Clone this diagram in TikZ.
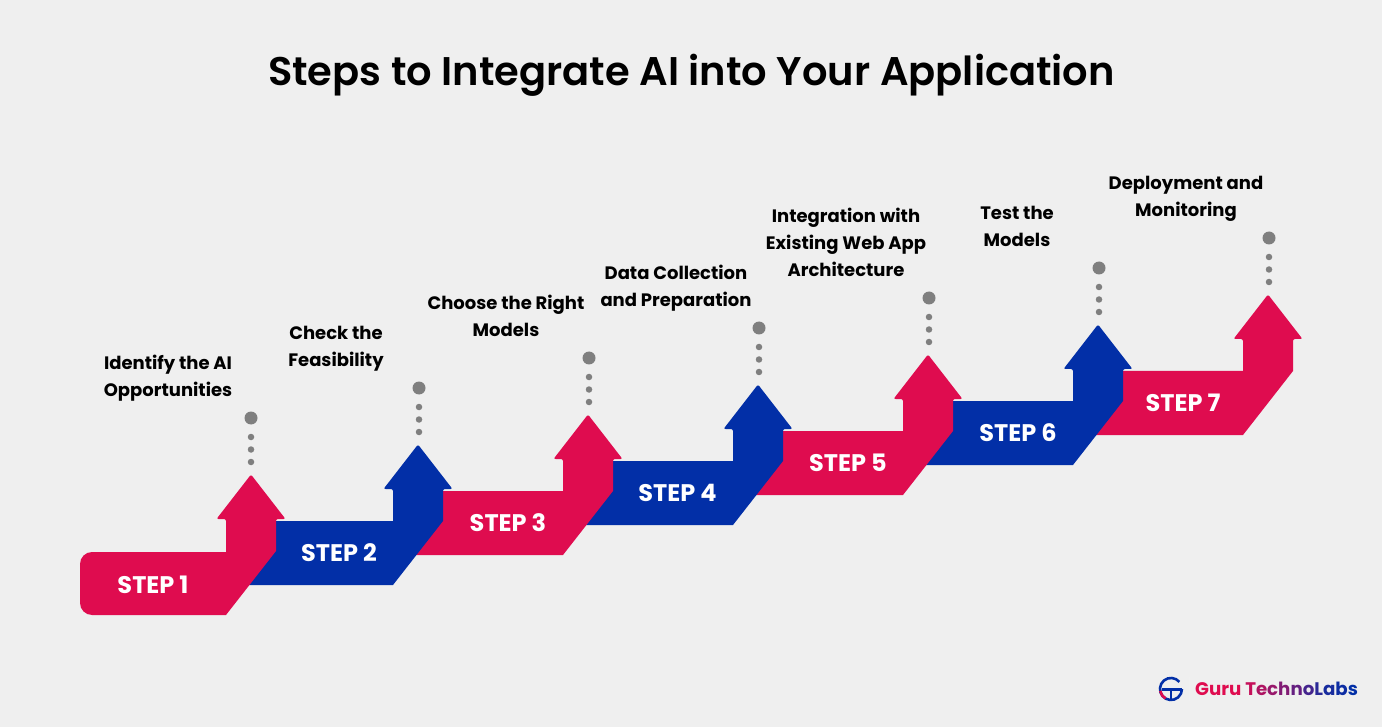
\documentclass[tikz,border=0pt]{standalone}
\usepackage{fontspec}
\setmainfont{Poppins}[BoldFont=* Bold]
\newfontfamily\semifont{Poppins SemiBold}
\definecolor{bgc}{HTML}{EFEFEF}
\definecolor{crim}{HTML}{DF0C4F}
\definecolor{deep}{HTML}{022FA7}
\definecolor{dotc}{HTML}{7F7F7F}
\tikzset{
  x=1pt,y=-1pt,
  steptext/.style={text=white,font=\bfseries\fontsize{24}{27}\selectfont,inner sep=0},
  caption/.style={text=black,font=\bfseries\fontsize{18}{27}\selectfont,align=center,inner sep=0},
  bigdot/.style={circle,fill=dotc,minimum size=13pt,inner sep=0},
  smalldot/.style={circle,fill=dotc,minimum size=6.5pt,inner sep=0},
  logotext/.style={font=\bfseries\fontsize{18.2}{22}\selectfont,inner sep=0,anchor=west},
}
\begin{document}
\begin{tikzpicture}
\useasboundingbox (0,0) rectangle (1382,727);
\fill[bgc] (0,0) rectangle (1382,727);
\node[text=black,font=\semifont\fontsize{40}{50}\selectfont,inner sep=0] (title) at (691.5,75) {Steps to Integrate AI into Your Application};
% arrows, last step first so that each lies over the next one
\foreach \s/\yt/\col in {1243/371/crim,1073/401/deep,903/431/crim,733/461/deep,563/491/crim,393/521/deep}{
  \fill[\col] (\s,\yt) [rounded corners=2] -- (\s,\yt-32) -- (\s-9.5,\yt-32) -- (\s+25,\yt-76.5) -- (\s+59.5,\yt-32) -- (\s+50,\yt-32) [sharp corners] -- (\s+50,\yt) -- (\s,\yt+64) -- (\s-150,\yt+64) -- (\s-125,\yt) -- cycle;
}
\fill[crim] (226,552) [rounded corners=2] -- (226,519) -- (216.5,519) -- (251,474.5) -- (285.5,519) -- (276,519) [sharp corners] -- (276,551) -- (226,615) [rounded corners=12] -- (80,615) -- (80,552) [sharp corners] -- cycle;
% step labels
\node[steptext] (s1) at (153,584.5) {STEP 1};
\node[steptext] (s2) at (339,553) {STEP 2};
\node[steptext] (s3) at (508,523) {STEP 3};
\node[steptext] (s4) at (677.5,493) {STEP 4};
\node[steptext] (s5) at (848,463) {STEP 5};
\node[steptext] (s6) at (1018,433) {STEP 6};
\node[steptext] (s7) at (1183,403) {STEP 7};
% dots
\foreach \n/\x/\y in {1/251/418,2/419/388,3/589/358,4/759/328,5/929/298,6/1099/268,7/1269/238}{
  \node[bigdot] (big\n) at (\x,\y) {};
  \node[smalldot] (da\n) at (\x,\y+19) {};
  \node[smalldot] (db\n) at (\x,\y+31.5) {};
  \node[smalldot] (dc\n) at (\x,\y+44) {};
}
% captions
\node[caption] (c1) at (168,378) {Identify the AI\\Opportunities};
\node[caption] (c2) at (336,349) {Check the\\Feasibility};
\node[caption] (c3) at (506,316) {Choose the Right\\Models};
\node[caption] (c4) at (676,288) {Data Collection\\and Preparation};
\node[caption] (c5) at (846,242.5) {Integration with\\Existing Web App\\Architecture};
\node[caption] (c6) at (1017,226) {Test the\\Models};
\node[caption] (c7) at (1186,198.5) {Deployment and\\Monitoring};
% logo
\draw[deep,line width=2.6] (1179.4,681.9) arc[start angle=-40,end angle=-360,radius=11];
\draw[crim,line width=2.6] (1160.2,690.9) arc[start angle=170,end angle=120,radius=11];
\draw[deep,line width=2.2] (1162,689.5) -- (1182,689.5);
\draw[deep,line width=2.2] (1171,689.5) -- (1171,699);
\draw[black!6,line width=1] (1189,677) -- (1189,701);
\node[logotext] (logo) at (1195,689) {\textcolor{crim}{Guru }\textcolor{crim!88!deep}{T}\textcolor{crim!78!deep}{e}\textcolor{crim!68!deep}{c}\textcolor{crim!58!deep}{h}\textcolor{crim!45!deep}{n}\textcolor{crim!30!deep}{o}\textcolor{crim!18!deep}{L}\textcolor{crim!10!deep}{a}\textcolor{crim!5!deep}{b}\textcolor{deep}{s}};
\end{tikzpicture}
\end{document}
